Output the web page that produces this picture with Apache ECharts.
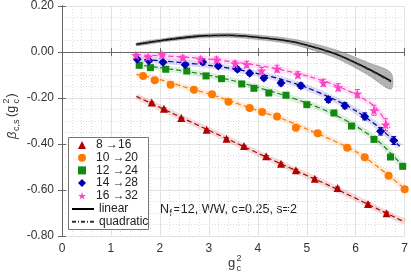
<!DOCTYPE html>
<html><head><meta charset="utf-8">
<script src="https://cdn.jsdelivr.net/npm/echarts@6/dist/echarts.min.js"></script>
<style>html,body{margin:0;padding:0;background:#fff}#c{width:411px;height:277px}</style>
</head><body><div id="c"></div>
<script>
// ---- data ----
const seriesNames = ['8 →16', '10 →20', '12 →24', '14 →28', '16 →32'];
const xTicks = [0, 1, 2, 3, 4, 5, 6, 7];
const yTicks = ['-0.80', '-0.60', '-0.40', '-0.20', '0.00', '0.20'];

const x8  = [1.834, 2.083, 2.436, 2.954, 3.36, 3.718, 4.17, 4.474, 4.778, 5.163, 5.629, 6.251, 6.63];
const y8  = [-0.220, -0.2465, -0.287, -0.338, -0.377, -0.409, -0.453, -0.486, -0.514, -0.551, -0.591, -0.661, -0.701];
const e8  = [0.003, 0.003, 0.003, 0.003, 0.003, 0.003, 0.003, 0.004, 0.004, 0.004, 0.004, 0.005, 0.005];

const x10 = [1.658, 1.895, 2.219, 2.695, 3.064, 3.40, 3.834, 4.089, 4.393, 4.778, 5.224, 5.826, 6.184, 6.671, 7.0];
const y10 = [-0.104, -0.123, -0.142, -0.164, -0.184, -0.216, -0.2435, -0.261, -0.280, -0.329, -0.3535, -0.416, -0.458, -0.538, -0.597];
const e10 = [0.003, 0.003, 0.003, 0.004, 0.004, 0.004, 0.004, 0.005, 0.005, 0.005, 0.006, 0.006, 0.007, 0.008, 0.008];

const x12 = [1.577, 1.807, 2.118, 2.549, 2.942, 3.258, 3.672, 3.921, 4.225, 4.575, 5.001, 5.556, 5.913, 6.373, 6.711, 6.96];
const y12 = [-0.058, -0.068, -0.075, -0.0826, -0.104, -0.116, -0.139, -0.158, -0.178, -0.188, -0.229, -0.265, -0.322, -0.380, -0.4565, -0.497];
const e12 = [0.004, 0.004, 0.004, 0.004, 0.005, 0.005, 0.005, 0.006, 0.006, 0.006, 0.007, 0.007, 0.008, 0.009, 0.010, 0.010];

const x14 = [1.536, 1.773, 2.063, 2.517, 2.873, 3.192, 3.583, 3.834, 4.124, 4.474, 4.88, 5.441, 5.779, 6.184, 6.508, 6.778];
const y14 = [-0.032, -0.038, -0.045, -0.055, -0.0435, -0.061, -0.075, -0.0926, -0.113, -0.135, -0.1465, -0.207, -0.2335, -0.280, -0.345, -0.385];
const e14 = [0.005, 0.005, 0.006, 0.007, 0.008, 0.008, 0.009, 0.010, 0.010, 0.012, 0.012, 0.013, 0.013, 0.015, 0.016, 0.017];

const x16 = [1.51, 1.759, 2.043, 2.468, 2.827, 3.157, 3.536, 3.773, 4.077, 4.393, 4.819, 5.339, 5.643, 6.034, 6.373, 6.61];
const y16 = [-0.0143, -0.0217, -0.0117, -0.0248, -0.0317, -0.0335, -0.0509, -0.0535, -0.0813, -0.0726, -0.0987, -0.1335, -0.1535, -0.181, -0.2535, -0.316];
const e16 = [0.006, 0.006, 0.007, 0.008, 0.010, 0.012, 0.012, 0.013, 0.014, 0.015, 0.013, 0.015, 0.016, 0.018, 0.022, 0.026];

// fitted curves (dashed)
const fx8  = [1.52, 2.5, 3.5, 4.5, 5.5, 6.5, 7.0];
const fy8  = [-0.193, -0.291, -0.390, -0.489, -0.585, -0.688, -0.739];
const fx10 = [1.52, 2.0, 2.5, 3.0, 3.5, 4.0, 4.5, 5.0, 5.5, 6.0, 6.5, 7.0];
const fy10 = [-0.097, -0.120, -0.152, -0.182, -0.218, -0.255, -0.290, -0.335, -0.381, -0.433, -0.507, -0.595];
const fx12 = [1.52, 2.0, 2.5, 3.0, 3.5, 4.0, 4.5, 5.0, 5.5, 6.0, 6.5, 7.0];
const fy12 = [-0.055, -0.068, -0.083, -0.101, -0.125, -0.154, -0.186, -0.222, -0.265, -0.322, -0.395, -0.505];
const fx14 = [1.52, 2.0, 2.5, 3.0, 3.5, 4.0, 4.5, 5.0, 5.5, 6.0, 6.5, 6.9];
const fy14 = [-0.031, -0.038, -0.047, -0.058, -0.073, -0.094, -0.120, -0.155, -0.200, -0.255, -0.332, -0.410];
const fx16 = [1.52, 2.0, 2.5, 3.0, 3.5, 4.0, 4.5, 5.0, 5.5, 6.0, 6.4, 6.7];
const fy16 = [-0.012, -0.016, -0.022, -0.031, -0.043, -0.058, -0.078, -0.104, -0.138, -0.185, -0.240, -0.330];

// continuum extrapolation (grey band)
const bandX   = [1.52, 2.06, 2.74, 3.41, 4.08, 4.5, 4.89, 5.58, 6.25, 6.72];
const linY    = [0.0335, 0.051, 0.068, 0.0726, 0.0622, 0.052, 0.0361, -0.0074, -0.0726, -0.126];
const quadY   = [0.031, 0.050, 0.067, 0.072, 0.062, 0.051, 0.035, -0.009, -0.075, -0.130];
const bandLo  = [0.0275, 0.044, 0.060, 0.0636, 0.0522, 0.041, 0.0231, -0.0254, -0.0996, -0.162];
const bandHi  = [0.0395, 0.058, 0.076, 0.0816, 0.0722, 0.063, 0.0491, 0.0106, -0.0456, -0.090];

// ---- styles ----
const colors = ['#b00000', '#ff7a00', '#128a12', '#0000b0', '#ff40c8'];
const starPath = 'path://M50,0 L61,35 L98,35 L68,57 L79,91 L50,70 L21,91 L32,57 L2,35 L39,35 Z';
const symbols = ['triangle', 'circle', 'rect', 'diamond', starPath];
const symSizes = [8, 8, 7, 9, 10];
const FONT = 'Liberation Sans';

const pts = [[x8, y8, e8], [x10, y10, e10], [x12, y12, e12], [x14, y14, e14], [x16, y16, e16]];
const fits = [[fx8, fy8], [fx10, fy10], [fx12, fy12], [fx14, fy14], [fx16, fy16]];
const zip = (a, b) => a.map((v, i) => [v, b[i]]);

const series = [];
series.push({
  type: 'custom', silent: true, z: 2,
  data: [0],
  renderItem: function (params, api) {
    const up = bandX.map((x, i) => api.coord([x, bandHi[i]]));
    const lo = bandX.map((x, i) => api.coord([x, bandLo[i]])).reverse();
    return { type: 'polygon', shape: { points: up.concat(lo), smooth: 0.3 },
      style: { fill: 'rgba(130,130,130,0.6)', stroke: 'rgba(90,90,90,0.5)', lineWidth: 0.6 } };
  }
});
series.push({ name: 'linear', type: 'line', data: zip(bandX, linY), symbol: 'none', smooth: 0.3, z: 3,
  lineStyle: { color: '#000', width: 1.6, type: 'solid' }, itemStyle: { color: '#000' } });
series.push({ name: 'quadratic', type: 'line', data: zip(bandX, quadY), symbol: 'none', smooth: 0.3, z: 3,
  lineStyle: { color: '#333', width: 1.4, type: [4, 2, 1, 2] }, itemStyle: { color: '#333' } });

fits.forEach((f, k) => {
  series.push({ name: 'band' + k, type: 'line', data: zip(f[0], f[1]), symbol: 'none', smooth: 0.3, z: 3, silent: true,
    lineStyle: { color: colors[k], width: 6, opacity: 0.14 } });
  series.push({ name: 'fit' + k, type: 'line', data: zip(f[0], f[1]), symbol: 'none', smooth: 0.3, z: 4,
    lineStyle: { color: colors[k], width: 1.2, type: [5, 3] } });
});
pts.forEach((p, k) => {
  series.push({
    type: 'custom', z: 5, silent: true,
    data: p[0].map((x, i) => [x, p[1][i], p[2][i]]),
    renderItem: function (params, api) {
      const x = api.value(0), y = api.value(1), e = api.value(2);
      const a = api.coord([x, y + e]), b = api.coord([x, y - e]);
      const st = { stroke: colors[k], lineWidth: 1 };
      return { type: 'group', children: [
        { type: 'line', shape: { x1: a[0], y1: a[1], x2: b[0], y2: b[1] }, style: st },
        { type: 'line', shape: { x1: a[0] - 2.5, y1: a[1], x2: a[0] + 2.5, y2: a[1] }, style: st },
        { type: 'line', shape: { x1: b[0] - 2.5, y1: b[1], x2: b[0] + 2.5, y2: b[1] }, style: st }
      ] };
    }
  });
  series.push({ name: seriesNames[k], type: 'scatter', data: zip(p[0], p[1]), z: 6,
    symbol: symbols[k], symbolSize: symSizes[k], itemStyle: { color: colors[k], opacity: 1 } });
});

const axisLine = { show: true, lineStyle: { color: '#666', width: 1 } };
const tick = { show: true, inside: true, length: 4, lineStyle: { color: '#666' } };
const legendText = { fontFamily: FONT, fontSize: 12, color: '#222' };
const chart = echarts.init(document.getElementById('c'), null, { renderer: 'canvas' });
chart.setOption({
  animation: false,
  backgroundColor: '#fff',
  grid: { left: 62, right: 4, top: 5, bottom: 41, containLabel: false },
  xAxis: [{
    type: 'value', min: xTicks[0], max: xTicks[xTicks.length - 1], interval: 1,
    axisLine: axisLine, axisTick: tick,
    axisLabel: { fontFamily: FONT, fontSize: 12, color: '#333', margin: 7,
      formatter: v => xTicks.indexOf(v) >= 0 ? String(v) : '' },
    splitLine: { show: true, lineStyle: { color: '#e2e2e2', width: 1 } },
    minorTick: { show: false, splitNumber: 5 },
    minorSplitLine: { show: true, lineStyle: { color: '#dcdcdc', type: [1, 2], width: 1 } }
  }, {
    type: 'value', position: 'top', min: 0, max: 7, interval: 1,
    axisLine: axisLine, axisTick: tick, axisLabel: { show: false }, splitLine: { show: false }
  }],
  yAxis: [{
    type: 'value', min: -0.8, max: 0.2, interval: 0.2,
    axisLine: axisLine, axisTick: tick,
    axisLabel: { fontFamily: FONT, fontSize: 12, color: '#333', margin: 8,
      formatter: v => { const s = v.toFixed(2); return s === '-0.00' ? '0.00' : s; } },
    splitLine: { show: true, lineStyle: { color: '#e2e2e2', width: 1 } },
    minorTick: { show: false, splitNumber: 4 },
    minorSplitLine: { show: true, lineStyle: { color: '#dcdcdc', type: [1, 2], width: 1 } }
  }, {
    type: 'value', position: 'right', min: -0.8, max: 0.2, interval: 0.2,
    axisLine: axisLine, axisTick: tick, axisLabel: { show: false }, splitLine: { show: false }
  }],
  legend: [{
    orient: 'vertical', left: 78, top: 139, z: 20,
    itemWidth: 8, itemHeight: 8, itemGap: 0.7, padding: 0,
    textStyle: Object.assign({ padding: [0, 0, 0, 5] }, legendText),
    data: seriesNames
  }, {
    orient: 'vertical', left: 71, top: 203, z: 20,
    itemWidth: 22, itemHeight: 8, itemGap: 0.7, padding: 0,
    itemStyle: { color: 'rgba(0,0,0,0)', borderColor: 'rgba(0,0,0,0)', borderWidth: 0 },
    textStyle: legendText,
    data: ['linear', 'quadratic']
  }],
  graphic: [
    { type: 'rect', z: 10, shape: { x: 68.5, y: 137.5, width: 80, height: 92 },
      style: { fill: '#fff', stroke: '#777', lineWidth: 1 } },
    { type: 'text', left: 160, top: 203, style: { text: 'N', fontFamily: FONT, fontSize: 12.5, fill: '#222' } },
    { type: 'text', left: 169.5, top: 209, style: { text: 'f', fontFamily: FONT, fontSize: 9, fill: '#222' } },
    { type: 'text', left: 173.5, top: 203, style: { text: '=12, WW, c=0.25, s=2', fontFamily: FONT, fontSize: 12.5, fill: '#222' } },
    { type: 'text', left: 228, top: 257, style: { text: 'g', fontFamily: FONT, fontSize: 13, fill: '#333' } },
    { type: 'text', left: 236.5, top: 254, style: { text: '2', fontFamily: FONT, fontSize: 9, fill: '#333' } },
    { type: 'text', left: 236.5, top: 264, style: { text: 'c', fontFamily: FONT, fontSize: 9, fill: '#333' } },
    { type: 'group', x: 12, y: 114, rotation: Math.PI / 2, children: [
      { type: 'text', x: -25, y: 0, style: { text: 'β', fontFamily: FONT, fontSize: 13, fontStyle: 'italic', fill: '#333', verticalAlign: 'middle' } },
      { type: 'text', x: -17, y: 5, style: { text: 'c,s', fontFamily: FONT, fontSize: 9, fill: '#333', verticalAlign: 'middle' } },
      { type: 'text', x: -3, y: 0, style: { text: '(g', fontFamily: FONT, fontSize: 12.5, fill: '#333', verticalAlign: 'middle' } },
      { type: 'text', x: 10.5, y: -5, style: { text: '2', fontFamily: FONT, fontSize: 9, fill: '#333', verticalAlign: 'middle' } },
      { type: 'text', x: 10.5, y: 5, style: { text: 'c', fontFamily: FONT, fontSize: 9, fill: '#333', verticalAlign: 'middle' } },
      { type: 'text', x: 16.5, y: 0, style: { text: ')', fontFamily: FONT, fontSize: 12.5, fill: '#333', verticalAlign: 'middle' } }
    ] }
  ],
  series: series
});
</script></body></html>
